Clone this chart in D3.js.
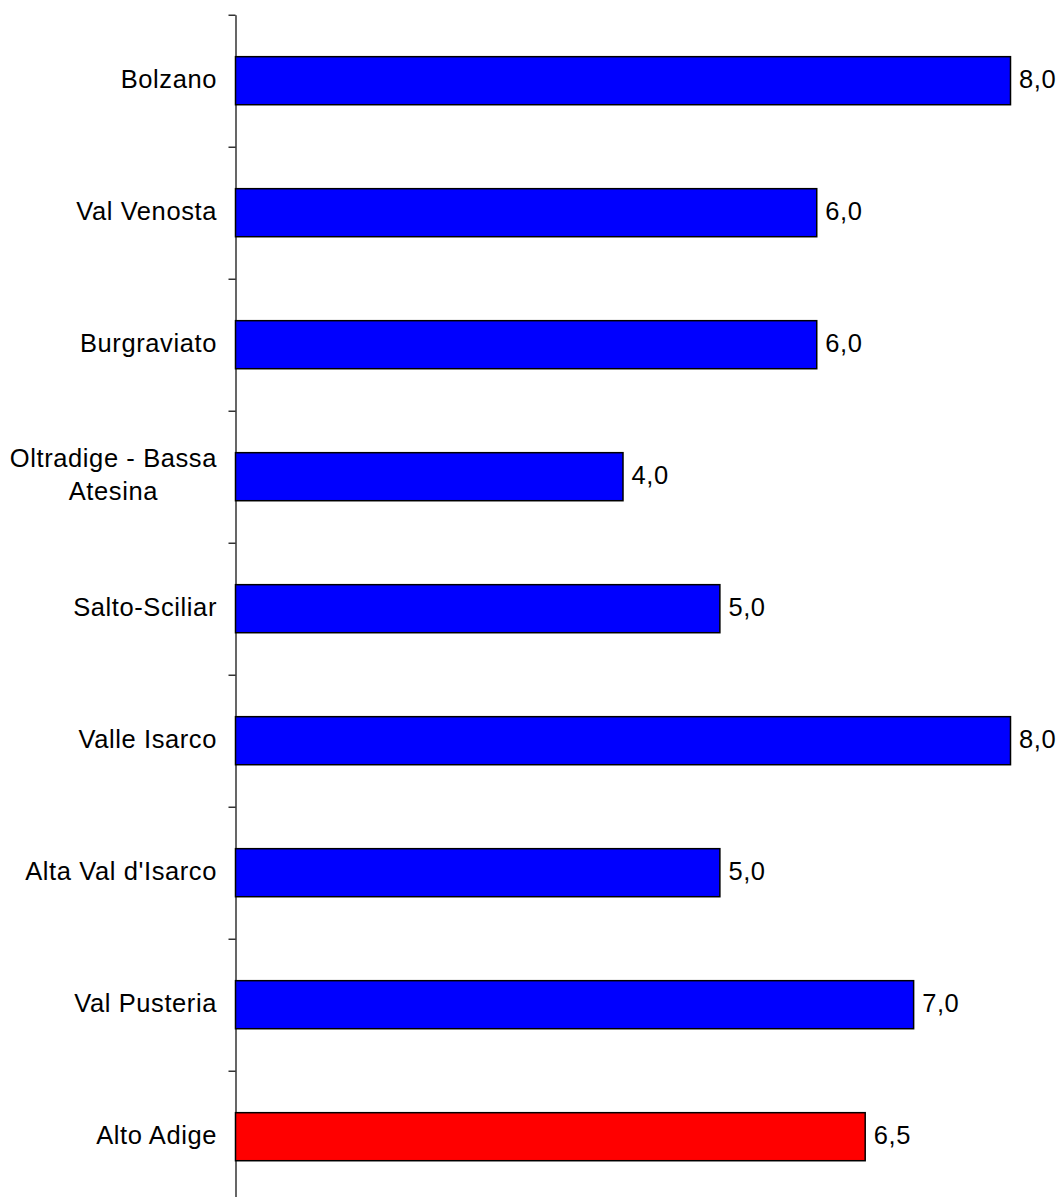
<!DOCTYPE html>
<html>
<head>
<meta charset="utf-8">
<script src="https://cdn.jsdelivr.net/npm/d3@7"></script>
<style>
  html, body { margin: 0; padding: 0; background: #fff; }
  svg { display: block; }
  text { font-family: "Liberation Sans", Arial, sans-serif; fill: #000; }
</style>
</head>
<body>
<svg id="chart" width="1061" height="1197"></svg>
<script>
// ---- Data ----
const categories = [
  "Bolzano",
  "Val Venosta",
  "Burgraviato",
  "Oltradige - Bassa|Atesina",
  "Salto-Sciliar",
  "Valle Isarco",
  "Alta Val d'Isarco",
  "Val Pusteria",
  "Alto Adige"
];
const values = [8.0, 6.0, 6.0, 4.0, 5.0, 8.0, 5.0, 7.0, 6.5];
const isTotal = [false, false, false, false, false, false, false, false, true];
const xDomain = [0, 8];

(function () {
  // ---- Layout ----
  const plotLeft = 235.5, plotRight = 1010.5;
  const plotTop = 14.7, plotBottom = 1202.7;
  const fontSize = 25.5;

  const svg = d3.select("#chart");

  const x = d3.scaleLinear().domain(xDomain).range([plotLeft, plotRight]);
  const y = d3.scaleBand()
    .domain(d3.range(categories.length))
    .range([plotTop, plotBottom])
    .paddingInner(0.636)
    .paddingOuter(0.318);

  // Axis with ticks at band boundaries
  const boundary = d3.scaleLinear().domain([0, categories.length]).range([plotTop, plotBottom]);
  const axis = d3.axisLeft(boundary)
    .tickValues(d3.range(categories.length + 1))
    .tickSize(7)
    .tickSizeOuter(0)
    .tickFormat("");
  const axG = svg.append("g")
    .attr("transform", `translate(${plotLeft},0)`)
    .call(axis);
  axG.select(".domain").attr("stroke", "#000").attr("stroke-width", 1.2);
  axG.selectAll(".tick line").attr("stroke", "#000").attr("stroke-width", 1.2);

  // Bars
  svg.append("g").selectAll("rect")
    .data(values)
    .join("rect")
    .attr("x", x(0))
    .attr("y", (d, i) => y(i))
    .attr("width", d => x(d) - x(0))
    .attr("height", y.bandwidth())
    .attr("fill", (d, i) => isTotal[i] ? "#FF0000" : "#0000FF")
    .attr("stroke", "#000")
    .attr("stroke-width", 1.5);

  // Value labels
  const fmt = v => d3.format(".1f")(v).replace(".", ",");
  svg.append("g").selectAll("text")
    .data(values)
    .join("text")
    .attr("x", d => x(d) + 8.5)
    .attr("y", (d, i) => y(i) + y.bandwidth() / 2 + 7)
    .attr("font-size", fontSize)
    .attr("letter-spacing", "0.6px")
    .text(d => fmt(d));

  // Category labels
  const labG = svg.append("g");
  categories.forEach((c, i) => {
    const lines = c.split("|");
    const cy = y(i) + y.bandwidth() / 2;
    const lh = 33.4;
    const t = labG.append("text")
      .attr("font-size", fontSize)
      .attr("letter-spacing", "0.6px");
    lines.forEach((ln, k) => {
      t.append("tspan")
        .attr("y", cy + 7 + (k - (lines.length - 1) / 2) * lh)
        .text(ln);
    });
    if (lines.length === 1) {
      t.attr("text-anchor", "end");
      t.selectAll("tspan").attr("x", 217);
    } else {
      let maxW = 0;
      t.selectAll("tspan").each(function () { maxW = Math.max(maxW, this.getComputedTextLength()); });
      t.attr("text-anchor", "middle");
      t.selectAll("tspan").attr("x", 217 - maxW / 2);
    }
  });
})();
</script>
</body>
</html>
